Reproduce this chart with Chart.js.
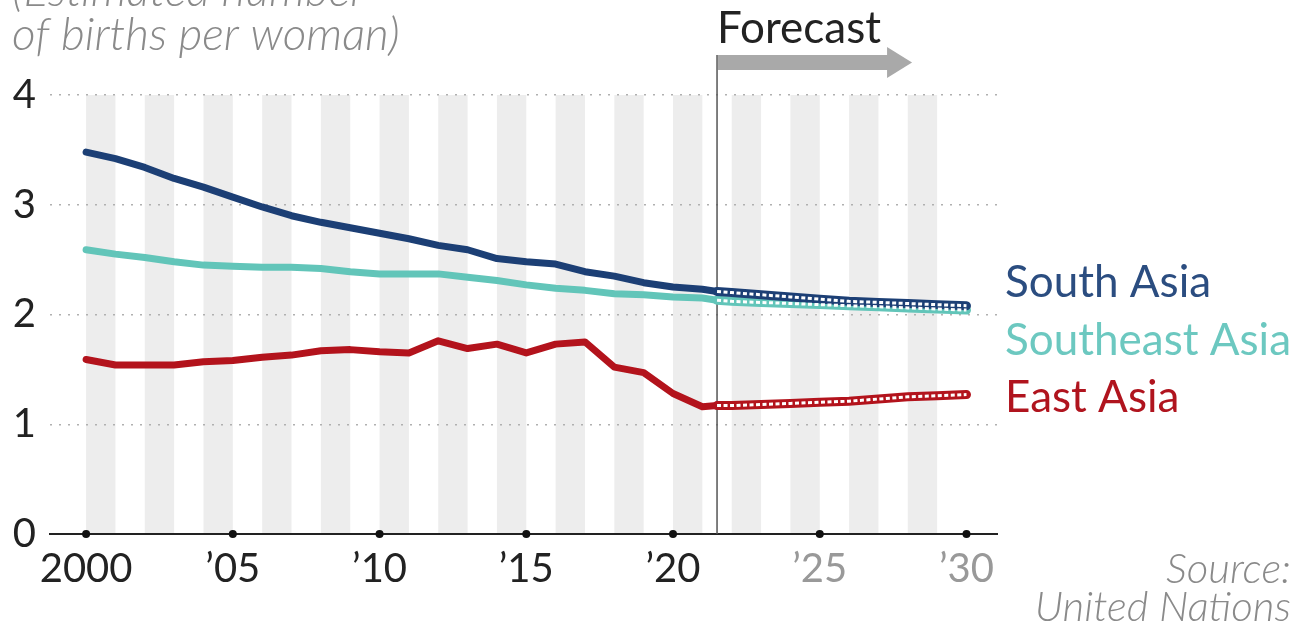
<!DOCTYPE html>
<html>
<head>
<meta charset="utf-8">
<script src="https://cdn.jsdelivr.net/npm/chart.js@4.4.1/dist/chart.umd.min.js"></script>
<style>
  html, body { margin: 0; padding: 0; background: #fff; }
  #wrap { position: relative; width: 1308px; height: 631px; }
</style>
</head>
<body>
<div id="wrap"><canvas id="fertilityChart"></canvas></div>
<script>
// historical estimates
const histYears = [2000, 2001, 2002, 2003, 2004, 2005, 2006, 2007, 2008, 2009, 2010,
  2011, 2012, 2013, 2014, 2015, 2016, 2017, 2018, 2019, 2020, 2021, 2021.5];
const southHist = [3.48, 3.42, 3.34, 3.24, 3.16, 3.07, 2.98, 2.90, 2.84, 2.79, 2.74,
  2.69, 2.63, 2.59, 2.51, 2.48, 2.46, 2.39, 2.35, 2.29, 2.25, 2.23, 2.21];
const southeastHist = [2.59, 2.55, 2.52, 2.48, 2.45, 2.44, 2.43, 2.43, 2.42, 2.39, 2.37,
  2.37, 2.37, 2.34, 2.31, 2.27, 2.24, 2.22, 2.19, 2.18, 2.16, 2.15, 2.13];
const eastHist = [1.59, 1.54, 1.54, 1.54, 1.57, 1.58, 1.61, 1.63, 1.67, 1.68, 1.66,
  1.65, 1.76, 1.69, 1.73, 1.65, 1.73, 1.75, 1.52, 1.47, 1.28, 1.16, 1.17];

// forecast
const fcYears = [2021.5, 2022, 2023, 2024, 2025, 2026, 2027, 2028, 2029, 2030];
const southFc = [2.21, 2.20, 2.18, 2.16, 2.14, 2.12, 2.11, 2.10, 2.09, 2.08];
const southeastFc = [2.13, 2.12, 2.11, 2.10, 2.09, 2.08, 2.07, 2.06, 2.05, 2.04];
const eastFc = [1.17, 1.17, 1.18, 1.19, 1.20, 1.21, 1.23, 1.25, 1.26, 1.27];

const seriesNames = ['South Asia', 'Southeast Asia', 'East Asia'];
const seriesColors = ['#1c3f75', '#62c5b9', '#b3131c'];
const labelColors = ['#2b4d80', '#6cc8c0', '#b0141e'];

const xTicks = [2000, 2005, 2010, 2015, 2020, 2025, 2030];
const xTickLabels = ['2000', '\u201905', '\u201910', '\u201915', '\u201920', '\u201925', '\u201930'];
const bandStarts = [2000, 2002, 2004, 2006, 2008, 2010, 2012, 2014, 2016, 2018, 2020, 2022, 2024, 2026, 2028];
const forecastStart = 2021.5;

const toPts = (xs, ys) => xs.map((x, i) => ({ x: x, y: ys[i] }));

const hist = [southHist, southeastHist, eastHist];
const fc = [southFc, southeastFc, eastFc];
const datasets = [];
hist.forEach((ys, i) => {
  datasets.push({
    label: seriesNames[i],
    data: toPts(histYears, ys),
    borderColor: seriesColors[i],
    borderWidth: 7,
    pointRadius: 0,
    borderJoinStyle: 'round',
    borderCapStyle: 'round',
    tension: 0,
    order: 3
  });
});
fc.forEach((ys, i) => {
  datasets.push({
    label: seriesNames[i] + ' forecast',
    data: toPts(fcYears, ys),
    borderColor: seriesColors[i],
    borderWidth: 9,
    pointRadius: 0,
    borderCapStyle: 'round',
    tension: 0,
    order: 2
  });
  datasets.push({
    label: seriesNames[i] + ' forecast dash',
    data: toPts(fcYears, ys),
    borderColor: '#ffffff',
    borderWidth: 3,
    borderDash: [4, 2.5],
    pointRadius: 0,
    tension: 0,
    order: 1
  });
});

const decor = {
  id: 'decor',
  beforeDraw(chart) {
    const { ctx, scales: { x, y } } = chart;
    ctx.save();
    ctx.fillStyle = '#ededed';
    bandStarts.forEach(b => {
      const x0 = x.getPixelForValue(b), x1 = x.getPixelForValue(b + 1);
      ctx.fillRect(x0, y.getPixelForValue(4), x1 - x0, y.getPixelForValue(0) - y.getPixelForValue(4));
    });
    ctx.restore();
  },
  beforeDatasetsDraw(chart) {
    const { ctx, scales: { x, y } } = chart;
    const fx = x.getPixelForValue(forecastStart);
    ctx.save();
    ctx.strokeStyle = '#555';
    ctx.lineWidth = 1.5;
    ctx.beginPath();
    ctx.moveTo(fx, 55);
    ctx.lineTo(fx, y.getPixelForValue(0));
    ctx.stroke();
    ctx.restore();
  },
  afterDraw(chart) {
    const { ctx, scales: { x, y } } = chart;
    ctx.save();
    // tick dots
    ctx.fillStyle = '#111';
    xTicks.forEach(t => {
      ctx.beginPath();
      ctx.arc(x.getPixelForValue(t), y.getPixelForValue(0), 4, 0, Math.PI * 2);
      ctx.fill();
    });
    // forecast arrow
    const fx = x.getPixelForValue(forecastStart);
    ctx.fillStyle = '#a9a9a9';
    ctx.fillRect(fx + 1, 55, 170, 15);
    ctx.beginPath();
    ctx.moveTo(fx + 170, 47);
    ctx.lineTo(fx + 195, 62.5);
    ctx.lineTo(fx + 170, 78);
    ctx.closePath();
    ctx.fill();
    ctx.fillStyle = '#222';
    ctx.font = '44px Lato';
    ctx.textAlign = 'left';
    ctx.textBaseline = 'alphabetic';
    ctx.fillText('Forecast', fx, 43);
    // unit note
    ctx.fillStyle = '#8a8a8a';
    ctx.font = 'italic 300 46px Lato';
    ctx.fillText('(Estimated number', 12, 6);
    ctx.fillText('of births per woman)', 12, 50);
    // series labels
    ctx.font = '44px Lato';
    const lblY = [297, 355, 412];
    seriesNames.forEach((n, i) => {
      ctx.fillStyle = labelColors[i];
      ctx.fillText(n, 1005, lblY[i]);
    });
    // source
    ctx.fillStyle = '#8a8a8a';
    ctx.font = 'italic 300 42px Lato';
    ctx.textAlign = 'right';
    ctx.fillText('Source:', 1291, 583);
    ctx.fillText('United Nations', 1291, 621);
    ctx.restore();
  }
};

const ctx = document.getElementById('fertilityChart').getContext('2d');
new Chart(ctx, {
  type: 'line',
  data: { datasets: datasets },
  options: {
    responsive: true,
    maintainAspectRatio: false,
    animation: false,
    layout: { padding: { top: 95, right: 311, left: 0, bottom: 0 } },
    plugins: { legend: { display: false }, tooltip: { enabled: false } },
    scales: {
      x: {
        type: 'linear',
        min: 1998.77,
        max: 2031.04,
        afterBuildTicks: s => { s.ticks = xTicks.map(v => ({ value: v })); },
        afterFit: s => { s.height = 97; },
        grid: { display: false, drawTicks: false },
        border: { display: true, color: '#222', width: 2 },
        ticks: {
          autoSkip: false,
          maxRotation: 0,
          padding: 11,
          font: { family: 'Lato', size: 40 },
          color: c => (c.tick && c.tick.value > 2021 ? '#999' : '#222'),
          callback: v => xTickLabels[xTicks.indexOf(v)]
        }
      },
      y: {
        min: 0,
        max: 4,
        afterFit: s => { s.width = 50; },
        grid: {
          drawTicks: false,
          lineWidth: 1.5,
          color: c => (c.tick && c.tick.value === 0 ? 'rgba(0,0,0,0)' : '#b0b0b0')
        },
        border: { display: false, dash: [2, 7] },
        ticks: {
          stepSize: 1,
          padding: 14,
          font: { family: 'Lato', size: 40 },
          color: '#222'
        }
      }
    }
  },
  plugins: [decor]
});
</script>
</body>
</html>
